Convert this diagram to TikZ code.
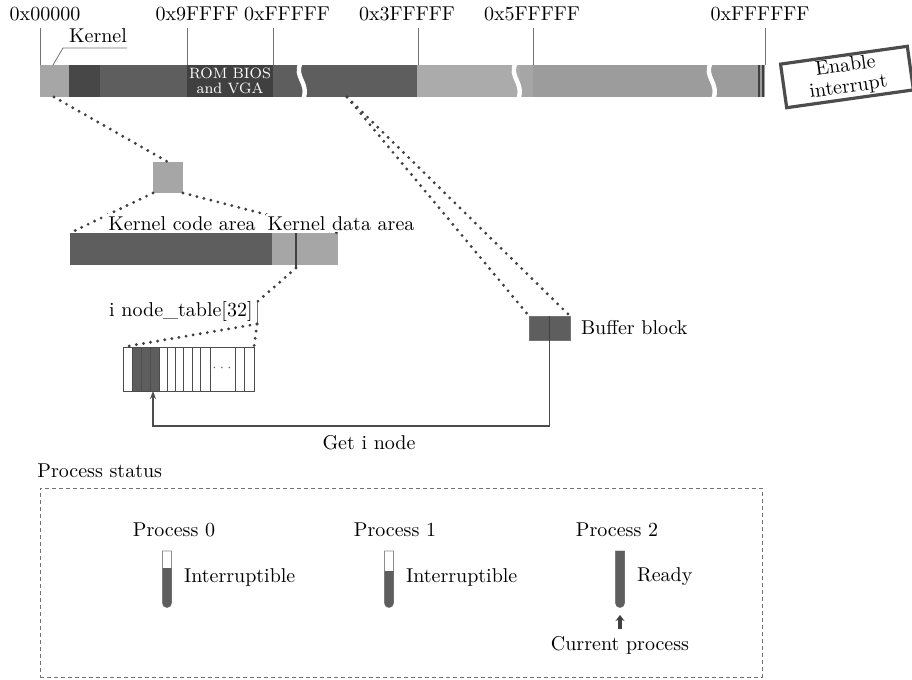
\documentclass[tikz,border=0pt]{standalone}
\usetikzlibrary{
  arrows.meta,
  positioning
}
\definecolor{kernlight}{gray}{0.65}
\definecolor{kerndark}{gray}{0.28}
\definecolor{memdark}{gray}{0.37}
\definecolor{romgray}{gray}{0.25}
\definecolor{memlight}{gray}{0.67}
\definecolor{memmid}{gray}{0.61}
\tikzset{
  >=Stealth,
  seg/.style = {inner sep=0, outer sep=0, anchor=north west},
  dots/.style = {draw=black!75, line width=1.6pt, line cap=round, dash pattern=on 0pt off 3.6pt},
  tick/.style = {draw=black!55, line width=0.4pt},
  brk/.style = {draw=white, line width=2.2pt},
  lbl/.style = {fill=white, inner sep=1pt, anchor=base},
}

\begin{document}
\begin{tikzpicture}[x=0.5pt, y=-0.5pt]
  \useasboundingbox (0,0) rectangle (912,680);

  % linear memory
  \foreach \a/\b/\c in {40/69/kernlight, 69/100/kerndark, 100/187/memdark,
      187/273/romgray, 273/417/memdark, 417/520/memlight, 520/533/kernlight,
      533/765/memmid}
    \fill[\c] (\a,65) rectangle (\b,97);
  \foreach \b in {301,516,711}
    \draw[brk] (\b,62) .. controls (\b-8,78) and (\b+9,82) .. (\b+2,100);
  \draw[black!75, line width=0.6pt] (759,65) -- (759,97) (763,65) -- (763,97);
  \node[font=\fontsize{7.5}{7.5}\selectfont, text=white, align=center] (rom) at (230,81) {ROM BIOS\\and VGA};
  \coordinate (kern) at (54,97);
  \coordinate (bufsrc) at (347,97);

  \foreach \x/\lx/\t in {40/45/0x00000, 187/197/0x9FFFF, 273/287/0xFFFFF,
      418/407/0x3FFFFF, 533/532/0x5FFFFF, 765/760/0xFFFFFF} {
    \draw[tick] (\x,28) -- (\x,65);
    \node (addr-\t) at (\lx,14) {\t};
  }
  \node (kernlbl) at (98,36) {Kernel};
  \draw[tick] (53,65) -- (63,48) -- (127,48);

  \node[draw=black!70, line width=1.6pt, rotate=8, minimum width=64pt, minimum height=22pt,
        inner sep=1pt, align=center, font=\fontsize{10}{10.5}\selectfont] (intr) at (847,77) {Enable\\interrupt};

  % kernel area
  \node[seg, fill=kernlight, minimum width=15pt, minimum height=15.5pt] (ksq) at (153,162) {};
  \node[seg, fill=memdark, minimum width=101pt, minimum height=16pt] (code) at (70,233) {};
  \node[seg, fill=kernlight, minimum width=33pt, minimum height=16pt] (data) at (code.north east) {};
  \coordinate (inode) at (296,268);
  \draw[black!75, line width=1.2pt] (296,233) -- (inode);
  \draw[dots] (kern) -- (ksq.north);
  \draw[dots] (ksq.south west) -- (code.north west);
  \draw[dots] (ksq.south east) -- (data.north east);
  \node[lbl] (codelbl) at (182,230) {Kernel code area};
  \node[lbl] (datalbl) at (341,230) {Kernel data area};

  % inode table
  \coordinate (brtop) at (257,302);
  \coordinate (brbot) at (257,324);
  \draw[tick] (brtop) -- (brbot);
  \node[anchor=east, inner sep=1pt] (tbllbl) at (255,311) {i node\_table[32]};
  \draw[dots] (inode) -- (brtop);
  \fill[memdark] (132,347) rectangle (159,391);
  \node[seg, draw=black!70, minimum width=65.5pt, minimum height=22pt] (tbl) at (123,347) {};
  \foreach \x in {132,141,150,159,167,175,183,192,200,210,235,244}
    \draw[black!70] (\x,347) -- (\x,391);
  \node[font=\scriptsize, text=black!60] (more) at (222,368) {$\cdots$};
  \draw[dots] (brbot) -- (tbl.north east);
  \draw[dots] (brbot) -- (tbl.north west);

  % buffer
  \node[seg, fill=memdark, draw=black!55, minimum width=20.5pt, minimum height=12pt] (buf) at (529,316) {};
  \draw[black!75] (buf.north) -- (buf.south);
  \node[right=2pt of buf] (buflbl) {Buffer block};
  \draw[dots] (bufsrc) -- (buf.north west);
  \draw[dots] (bufsrc) -- (buf.north east);

  \coordinate (slot) at (153,391);
  \coordinate (turn) at (153,426);
  \draw[-{Stealth[length=4pt, width=3pt]}, black!70, line width=0.7pt] (buf.south) |- (turn) -- (slot);
  \node (getlbl) at (369,443) {Get i node};

  % processes
  \node[seg, draw=black!55, dash pattern=on 2pt off 1.5pt, minimum width=361pt, minimum height=94.5pt] (status) at (40,488) {};
  \node[anchor=base west, inner sep=0] (statlbl) at (37,477) {Process status};
  \foreach \px/\wh/\i in {167/17/0, 389/20/1, 620/0/2} {
    \filldraw[draw=black!45, fill=white] (\px-4.5,551) -- (\px-4.5,603)
      arc[start angle=180, end angle=0, radius=4.5] -- (\px+4.5,551) -- cycle;
    \fill[memdark] (\px-4.5,551+\wh) -- (\px-4.5,603)
      arc[start angle=180, end angle=0, radius=4.5] -- (\px+4.5,551+\wh) -- cycle;
    \coordinate (tube\i) at (\px,608);
  }
  \node (p0) at (174,530) {Process 0};
  \node (p1) at (395,530) {Process 1};
  \node (p2) at (617,530) {Process 2};
  \node[anchor=west] (s0) at (177,577) {Interruptible};
  \node[anchor=west] (s1) at (399,577) {Interruptible};
  \node[anchor=west] (s2) at (630,577) {Ready};
  \node (cur) at (620,645) {Current process};
  \draw[-{Stealth[length=3pt, width=4.5pt]}, line width=1.6pt, black!75, shorten >=3.5pt] (cur.north) -- (tube2);
\end{tikzpicture}
\end{document}
